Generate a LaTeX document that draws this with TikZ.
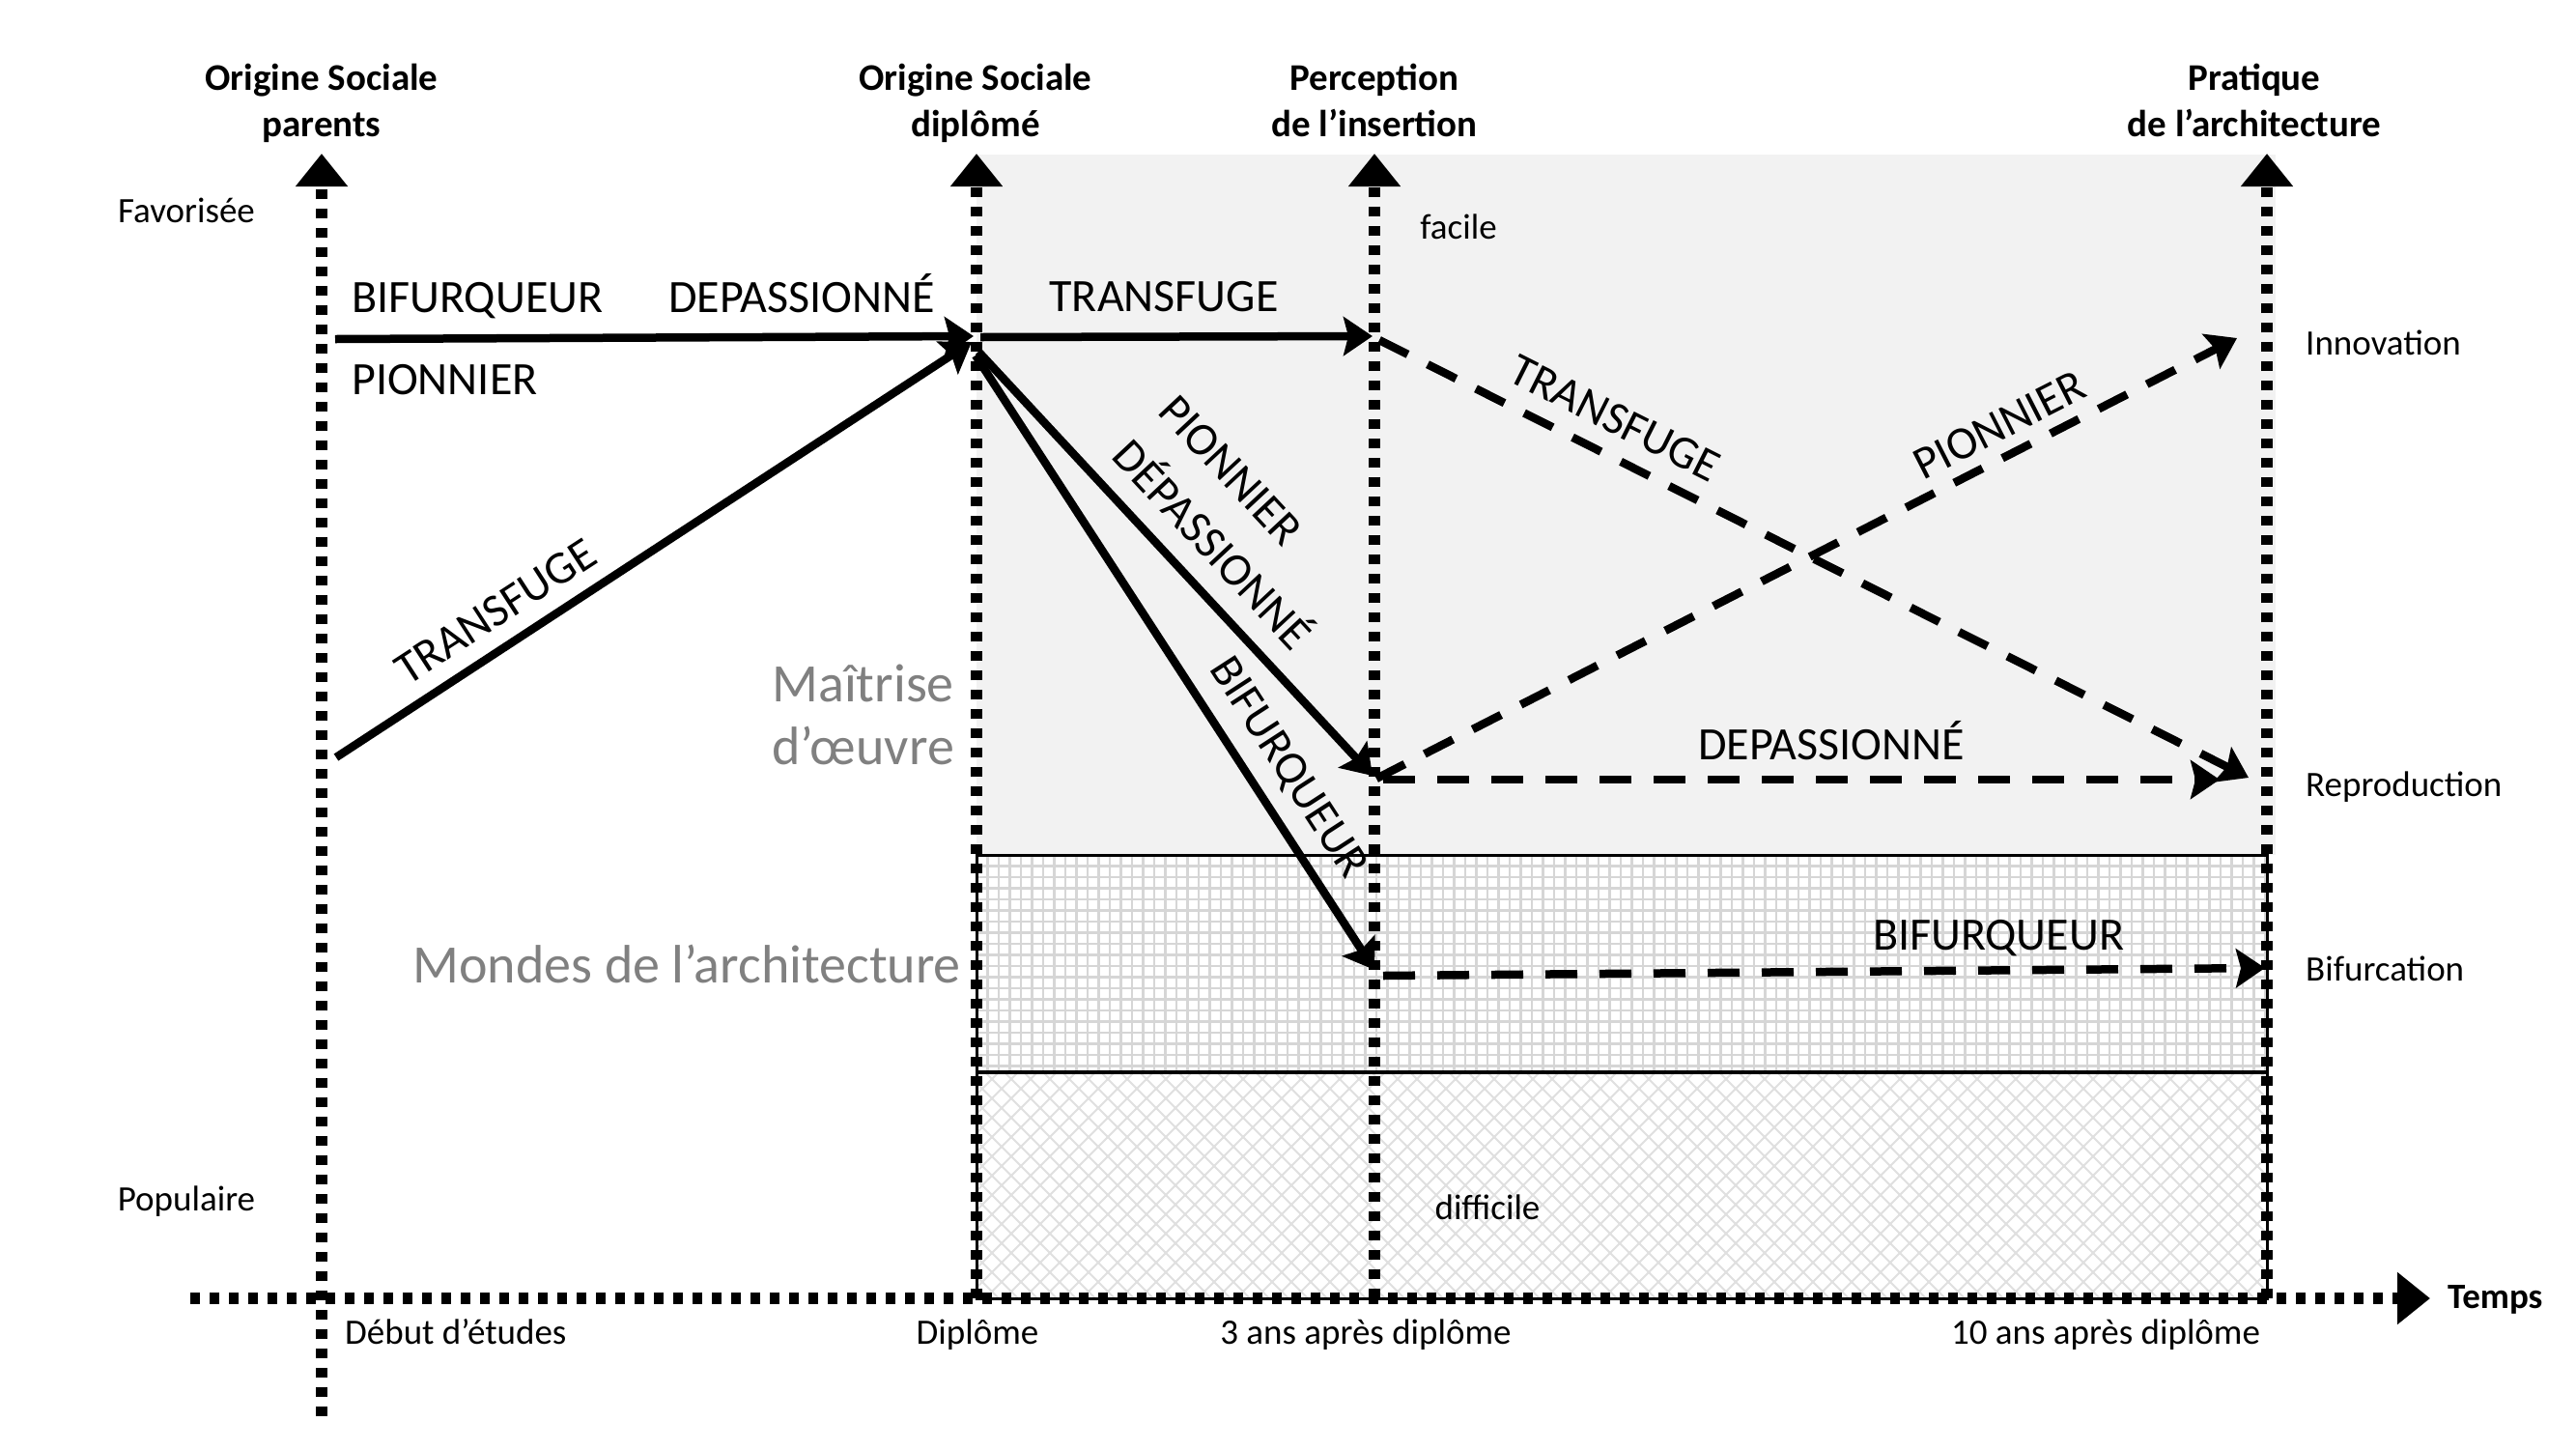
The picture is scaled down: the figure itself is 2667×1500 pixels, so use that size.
\documentclass[tikz,border=0pt]{standalone}
\usepackage{fontspec}
\setmainfont{Carlito}
\usetikzlibrary{arrows.meta}
\definecolor{regiongray}{HTML}{F2F2F2}
\definecolor{gridgray}{HTML}{D6D6D6}
\definecolor{hatchgray}{HTML}{E0E0E0}
\definecolor{textgray}{HTML}{808080}
\tikzset{
  axisline/.style={line width=12pt, dash pattern=on 10pt off 10pt, -{Triangle[length=34pt,width=52pt]}},
  solidarrow/.style={line width=8.5pt, -{Stealth[length=30pt,width=40pt,inset=5pt]}},
  dasharrow/.style={solidarrow, dash pattern=on 33pt off 23pt},
  biglab/.style={inner sep=0pt, font=\fontsize{48pt}{56pt}\selectfont},
  smalllab/.style={inner sep=0pt, font=\fontsize{37pt}{44pt}\selectfont},
  headlab/.style={inner sep=0pt, align=center, font=\fontsize{39pt}{48pt}\selectfont\bfseries},
  greylab/.style={inner sep=0pt, text=textgray, font=\fontsize{56pt}{66pt}\selectfont},
  gridline/.style={gridgray, line width=2.5pt},
  hatchline/.style={hatchgray, line width=2pt}
}
\begin{document}
\begin{tikzpicture}[x=1pt,y=-1pt]
\useasboundingbox (0,0) rectangle (2667,1500);
% regions
\fill[regiongray] (1011,160) rectangle (2356,885);
\fill[white] (1011,885) rectangle (2347,1344);
\begin{scope}
  \clip (1011,885) rectangle (2347,1110);
  \foreach \x in {1011,1022.5,...,2350} \draw[gridline] (\x,885) -- (\x,1110);
  \foreach \y in {885,896.5,...,1112} \draw[gridline] (1011,\y) -- (2347,\y);
\end{scope}
\begin{scope}
  \clip (1011,1110) rectangle (2347,1344);
  \foreach \x in {760,780,...,2360} {
    \draw[hatchline] (\x,1110) -- ++(234,234);
    \draw[hatchline] (\x,1344) -- ++(234,-234);
  }
\end{scope}
\draw[line width=1.5pt] (1011,885) -- (2347,885);
\draw[line width=3.5pt] (1011,1110) -- (2347,1110);
\draw[line width=3pt] (1011,885) rectangle (2347,1344);

% axes
\coordinate (a0b) at (333,1466); \coordinate (a0t) at (333,159);
\coordinate (a1b) at (1011,1344); \coordinate (a1t) at (1011,159);
\coordinate (a2b) at (1423,1344); \coordinate (a2t) at (1423,159);
\coordinate (a3b) at (2347,1344); \coordinate (a3t) at (2347,159);
\coordinate (tl) at (197,1344); \coordinate (tr) at (2516,1344);
\draw[axisline] (a0b) -- (a0t);
\draw[axisline] (a1b) -- (a1t);
\draw[axisline] (a2b) -- (a2t);
\draw[axisline] (a3b) -- (a3t);
\draw[axisline] (tl) -- (tr);

% trajectories
\coordinate (s0) at (347,351);
\coordinate (hub) at (1008,348);
\coordinate (t0) at (348,784);
\coordinate (hubT) at (1006,354);
\coordinate (h1) at (1015,349);
\coordinate (h2) at (1013,364);
\coordinate (h3) at (1010,368);
\coordinate (p1) at (1421,348);
\coordinate (p2) at (1421,803);
\coordinate (p3) at (1423,1004);
\coordinate (q1) at (1428,352);
\coordinate (q2) at (1425,806);
\coordinate (q2b) at (1432,807);
\coordinate (q3) at (1432,1010);
\coordinate (rRep) at (2328,805);
\coordinate (rInn) at (2316,350);
\coordinate (rRep2) at (2298,807);
\coordinate (rBif) at (2345,1002);
\draw[solidarrow] (s0) -- (hub);
\draw[solidarrow] (t0) -- (hubT);
\draw[solidarrow] (h1) -- (p1);
\draw[solidarrow] (h2) -- (p2);
\draw[solidarrow] (h3) -- (p3);
\draw[dasharrow] (q1) -- (rRep);
\draw[dasharrow] (q2) -- (rInn);
\draw[dasharrow] (q2b) -- (rRep2);
\draw[dasharrow] (q3) -- (rBif);

% headers
\node[headlab, anchor=north] (h0) at (333,66) {Origine Sociale\\parents};
\node[headlab, anchor=north] (hd1) at (1010,66) {Origine Sociale\\diplômé};
\node[headlab, anchor=north] (hd2) at (1423,66) {Perception\\de l’insertion};
\node[headlab, anchor=north] (hd3) at (2334,66) {Pratique\\de l’architecture};

% side labels
\node[smalllab, anchor=base] (fav) at (193,230) {Favorisée};
\node[smalllab, anchor=base] (pop) at (193,1253) {Populaire};
\node[smalllab, anchor=base] (fac) at (1510,247) {facile};
\node[smalllab, anchor=base] (dif) at (1540,1262) {difficile};
\node[smalllab, anchor=base west] (inn) at (2387,367) {Innovation};
\node[smalllab, anchor=base west] (rep) at (2387,824) {Reproduction};
\node[smalllab, anchor=base west] (bif) at (2387,1015) {Bifurcation};
\node[smalllab, anchor=base west, font=\fontsize{37pt}{44pt}\selectfont\bfseries] (tps) at (2534,1354) {Temps};
\node[smalllab, anchor=base west] (deb) at (357,1391) {Début d’études};
\node[smalllab, anchor=base] (dip) at (1012,1391) {Diplôme};
\node[smalllab, anchor=base] (trois) at (1414,1391) {3 ans après diplôme};
\node[smalllab, anchor=base] (dix) at (2180,1391) {10 ans après diplôme};

% trajectory labels
\node[biglab, anchor=base west] (lb1) at (364,323) {BIFURQUEUR};
\node[biglab, anchor=base west] (lb2) at (692,323) {DEPASSIONNÉ};
\node[biglab, anchor=base west] (lb3) at (364,408) {PIONNIER};
\node[biglab, rotate=33] (lb4) at (513,633) {TRANSFUGE};
\node[biglab, anchor=base] (lb5) at (1205,322) {TRANSFUGE};
\node[biglab, rotate=-47] (lb6) at (1274,487) {PIONNIER};
\node[biglab, rotate=-47] (lb7) at (1258,561) {DÉPASSIONNÉ};
\node[biglab, rotate=-57] (lb8) at (1333,795) {BIFURQUEUR};
\node[biglab, rotate=-26.7] (lb9) at (1672,433) {TRANSFUGE};
\node[biglab, rotate=27] (lb10) at (2070,440) {PIONNIER};
\node[biglab, anchor=base] (lb11) at (1896,786) {DEPASSIONNÉ};
\node[biglab, anchor=base] (lb12) at (2069,983) {BIFURQUEUR};

% zone labels
\node[greylab, anchor=base east] (m1) at (988,726) {Maîtrise};
\node[greylab, anchor=base east] (m2) at (988,791) {d’œuvre};
\node[greylab, anchor=base east] (m3) at (995,1017) {Mondes de l’architecture};
\end{tikzpicture}
\end{document}
